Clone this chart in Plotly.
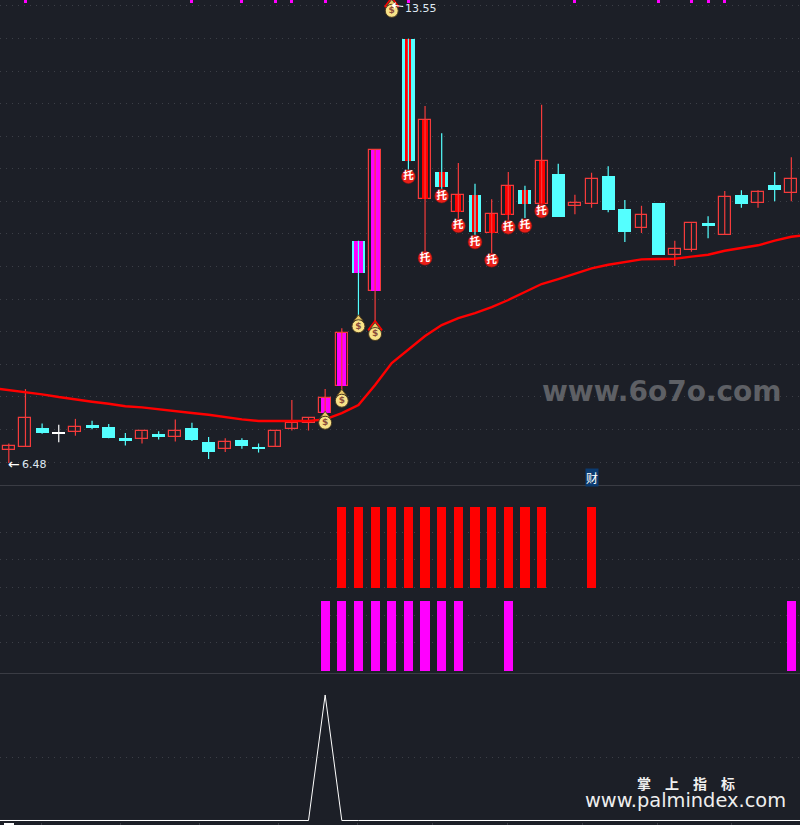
import plotly.graph_objects as go

BG = "#1c1f27"
GRID = "#3c3f47"
SEP = "#3a3c44"
RED_EDGE = "#f53b3b"
CYAN = "#54ffff"
RED = "#ff0000"
MAGENTA = "#ff00ff"

opens = [6.68, 6.73, 7.02, 6.94, 6.96, 7.06, 7.03, 6.86, 6.85, 6.93, 6.88, 7.02, 6.81, 6.70, 6.83, 6.73, 6.73, 7.01, 7.09, 7.25, 7.67, 9.91, 9.13, None,
         13.03, 10.55, 10.97, 10.36, 10.62, 10.03, 10.31, 10.70, 10.48, 10.94, 10.44, 10.47, 10.91, 10.40, 10.10, 10.49, 9.69, 9.77, 10.18, 10.00, 10.62, 10.50, 10.77, 10.64]
highs = [6.78, 7.62, 7.09, 7.07, 7.16, 7.13, 7.08, 6.94, 6.97, 6.97, 7.15, 7.10, 6.88, 6.86, 6.86, 6.78, 6.97, 7.45, 7.18, 7.62, 8.56, 9.91, 11.31, None,
         13.03, 11.99, 11.57, 11.11, 10.79, 10.55, 10.97, 10.76, 12.01, 11.10, 10.62, 10.96, 11.06, 10.54, 10.45, 10.49, 9.91, 10.18, 10.29, 10.68, 10.69, 10.69, 10.97, 11.20]
lows = [6.48, 6.73, 6.93, 6.80, 6.90, 7.00, 6.86, 6.75, 6.78, 6.84, 6.81, 6.82, 6.54, 6.65, 6.70, 6.64, 6.73, 6.98, 6.98, 7.20, 7.58, 8.72, 8.56, None,
        11.00, 9.66, 10.69, 10.23, 10.00, 9.72, 10.23, 10.26, 10.46, 10.28, 10.32, 10.42, 10.35, 9.89, 10.03, 9.69, 9.52, 9.74, 9.95, 10.00, 10.42, 10.42, 10.52, 10.52]
closes = [6.74, 7.17, 6.94, 6.94, 7.03, 7.03, 6.86, 6.82, 6.97, 6.88, 6.97, 6.83, 6.65, 6.81, 6.74, 6.70, 6.97, 7.09, 7.18, 7.49, 8.48, 9.41, 11.31, None,
          11.14, 11.77, 10.74, 10.61, 10.05, 10.32, 10.75, 10.48, 11.14, 10.28, 10.50, 10.87, 10.38, 10.05, 10.30, 9.69, 9.79, 10.18, 10.15, 10.58, 10.48, 10.67, 10.69, 10.87]

ma_x = list(range(-1, 49))
ma_values = [7.636, 7.605, 7.575, 7.539, 7.497, 7.456, 7.425, 7.394, 7.354, 7.338, 7.307, 7.270, 7.250, 7.224, 7.184, 7.153, 7.127, 7.127, 7.127, 7.127,
             7.153, 7.250, 7.374, 7.683, 8.022, 8.238, 8.439, 8.609, 8.717, 8.794, 8.887, 8.995, 9.119, 9.242, 9.319, 9.396, 9.484, 9.540, 9.577, 9.623,
             9.628, 9.633, 9.664, 9.694, 9.756, 9.803, 9.840, 9.911, 9.972, 10.003]

magenta_body_idx = [19, 20, 21, 22]
red_body_idx = [24, 25, 26, 27, 28, 29, 30, 31, 32]

bag_idx = [19, 20, 21, 22, 23]
bag_price = [7.10, 7.44, 8.59, 8.47, 13.46]
bow_idx = [22, 23]
bow_price = [8.58, 13.57]
tuo_idx = [24, 25, 26, 27, 28, 29, 30, 31, 32]
tuo_price = [10.90, 9.64, 10.60, 10.14, 9.89, 9.61, 10.12, 10.14, 10.37]

top_tick_idx = [1, 11, 14, 16, 17, 19, 23, 24, 34, 39, 41, 42, 43]

red_sig_idx = [20, 21, 22, 23, 24, 25, 26, 27, 28, 29, 30, 31, 32, 35]
red_sig_low = 45.4
red_sig_high = 88.3
mag_sig_idx = [19, 20, 21, 22, 23, 24, 25, 26, 27, 30, 47]
mag_sig_low = 1.06
mag_sig_high = 38.3

spike_x = list(range(-1, 49))
spike_values = [0] * 20 + [1] + [0] * 29

top_grid = [6.494, 6.997, 7.500, 8.003, 8.506, 9.009, 9.512, 10.015, 10.518, 11.021, 11.524, 12.027, 12.530, 13.033, 13.536]
mid_grid = [16.3, 30.7, 45.6, 60.4, 74.8]
low_grid = [0.5]
bottom_ticks = [1.95, 6.70, 11.45, 16.20, 20.95, 25.45, 29.96, 34.43, 38.97, 43.43]

X_RANGE = [-0.529, 47.52]
PRICE_RANGE = [6.139, 13.627]


def seg(idx, lo, hi):
    xs, ys = [], []
    for i, a, b in zip(idx, lo, hi):
        xs += [i, i, None]
        ys += [a, b, None]
    return xs, ys


idx_all = [i for i in range(len(opens)) if opens[i] is not None]
up = [i for i in idx_all if closes[i] > opens[i]]
down = [i for i in idx_all if closes[i] < opens[i]]
flat = [i for i in idx_all if closes[i] == opens[i]]

fig = go.Figure()


def wick(idx, color):
    xs, ys = seg(idx, [lows[i] for i in idx], [highs[i] for i in idx])
    fig.add_trace(go.Scatter(x=xs, y=ys, mode="lines", line=dict(color=color, width=1.2), hoverinfo="skip", xaxis="x", yaxis="y"))


wick(up, RED_EDGE)
wick(down, CYAN)
wick(flat, "#ffffff")


def body(idx, fill, edge, width, edge_w):
    tops = [max(opens[i], closes[i]) for i in idx]
    bots = [min(opens[i], closes[i]) for i in idx]
    fig.add_trace(go.Bar(x=idx, y=[t - b for t, b in zip(tops, bots)], base=bots, width=width,
                         marker=dict(color=fill, line=dict(color=edge, width=edge_w)), xaxis="x", yaxis="y"))


body(up, BG, RED_EDGE, 0.72, 1.2)
body(down, CYAN, CYAN, 0.78, 0)
fig.add_trace(go.Bar(x=flat, y=[0.016] * len(flat), base=[opens[i] - 0.008 for i in flat], width=0.78,
                     marker=dict(color="#ffffff", line=dict(width=0)), xaxis="x", yaxis="y"))
body(magenta_body_idx, MAGENTA, MAGENTA, 0.54, 0)
body(red_body_idx, RED, RED, 0.36, 0)

fig.add_trace(go.Bar(x=top_tick_idx, y=[0.05] * len(top_tick_idx), base=[13.577] * len(top_tick_idx), width=0.18,
                     marker=dict(color=MAGENTA, line=dict(width=0)), xaxis="x", yaxis="y"))

fig.add_trace(go.Scatter(x=ma_x, y=ma_values, mode="lines", line=dict(color=RED, width=2.4), hoverinfo="skip", xaxis="x", yaxis="y"))

# money bags: bow + neck + body carrying a dollar sign
fig.add_trace(go.Scatter(x=bow_idx, y=bow_price, mode="markers",
                         marker=dict(symbol="triangle-up-open", size=12, color=RED, line=dict(color=RED, width=1.6)),
                         hoverinfo="skip", xaxis="x", yaxis="y"))
fig.add_trace(go.Scatter(x=bag_idx, y=[p + 0.115 for p in bag_price], mode="markers",
                         marker=dict(symbol="triangle-up", size=8, color="#e8c868", line=dict(color="#5a4520", width=1)),
                         hoverinfo="skip", xaxis="x", yaxis="y"))
fig.add_trace(go.Scatter(x=bag_idx, y=bag_price, mode="markers+text", text=["$"] * len(bag_idx), textposition="middle center",
                         textfont=dict(family="DejaVu Sans", size=9, color="#8a4a3a", weight="bold"),
                         marker=dict(symbol="circle", size=13, color="#f8e288", line=dict(color="#4a3a20", width=1)),
                         hoverinfo="skip", xaxis="x", yaxis="y"))

fig.add_trace(go.Scatter(x=tuo_idx, y=tuo_price, mode="markers+text", text=["托"] * len(tuo_idx), textposition="middle center",
                         textfont=dict(family="Noto Sans CJK SC", size=10.5, color="#ffffff", weight="bold"),
                         marker=dict(symbol="circle", size=14, color="#ea1f18", line=dict(color="#7a1414", width=0.6)),
                         hoverinfo="skip", xaxis="x", yaxis="y"))

fig.add_trace(go.Bar(x=red_sig_idx, y=[red_sig_high - red_sig_low] * len(red_sig_idx), base=[red_sig_low] * len(red_sig_idx), width=0.55,
                     marker=dict(color=RED, line=dict(width=0)), xaxis="x2", yaxis="y2"))
fig.add_trace(go.Bar(x=mag_sig_idx, y=[mag_sig_high - mag_sig_low] * len(mag_sig_idx), base=[mag_sig_low] * len(mag_sig_idx), width=0.55,
                     marker=dict(color=MAGENTA, line=dict(width=0)), xaxis="x2", yaxis="y2"))

fig.add_trace(go.Scatter(x=spike_x, y=spike_values, mode="lines", line=dict(color="#ffffff", width=1), hoverinfo="skip", xaxis="x3", yaxis="y3"))

ax_common = dict(range=X_RANGE, showgrid=False, zeroline=False, showticklabels=False, fixedrange=True)
grid_common = dict(showgrid=True, gridcolor=GRID, griddash="1px,5px", gridwidth=1, zeroline=False, showticklabels=False, ticks="", showline=False, fixedrange=True)

annotations = [
    dict(x=0, y=6.46, xref="x", yref="y", text="←", xanchor="left", yanchor="middle", showarrow=False, xshift=-3,
         font=dict(family="DejaVu Sans", size=14, color="#ffffff")),
    dict(x=0, y=6.46, xref="x", yref="y", text="6.48", xanchor="left", yanchor="middle", showarrow=False, xshift=11,
         font=dict(family="DejaVu Sans", size=11, color="#dfe9f2")),
    dict(x=23, y=13.55, xref="x", yref="y", text="13.55", showarrow=True, ax=29, ay=4, arrowcolor="#ffffff", arrowwidth=1, arrowhead=1, arrowsize=1.2, standoff=0,
         font=dict(family="DejaVu Sans", size=11, color="#dfe9f2")),
    dict(x=35, y=6.25, xref="x", yref="y", text="财", showarrow=False, bgcolor="#0b3b70", borderpad=0,
         font=dict(family="Noto Sans CJK SC", size=12, color="#ffffff")),
    dict(x=662 / 800, y=1 - 392 / 825, xref="paper", yref="paper", text="www.6o7o.com", showarrow=False, xanchor="center", yanchor="middle",
         font=dict(family="DejaVu Sans", size=28, color="#5e6065", weight="bold")),
    dict(x=685.5 / 800, y=1 - 783 / 825, xref="paper", yref="paper", text="掌\u3000上\u3000指\u3000标", showarrow=False, xanchor="center", yanchor="middle",
         font=dict(family="Noto Sans CJK SC", size=14, color="#f0f0f0", weight="bold")),
    dict(x=685 / 800, y=1 - 800 / 825, xref="paper", yref="paper", text="www.palmindex.com", showarrow=False, xanchor="center", yanchor="middle",
         font=dict(family="DejaVu Sans", size=19.4, color="#eeeeee")),
]

fig.update_layout(
    width=800, height=825, margin=dict(l=0, r=0, t=0, b=0),
    paper_bgcolor=BG, plot_bgcolor=BG, showlegend=False, barmode="overlay", bargap=0,
    annotations=annotations,
    shapes=[dict(type="rect", xref="paper", yref="paper", x0=4 / 800, x1=14 / 800, y0=0, y1=2 / 825, fillcolor="#ffffff", line=dict(width=0))],
    xaxis=dict(domain=[0, 1], anchor="y", showline=True, linecolor=SEP, linewidth=1, **ax_common),
    yaxis=dict(domain=[1 - 485 / 825, 1], range=PRICE_RANGE, tickmode="array", tickvals=top_grid, **grid_common),
    xaxis2=dict(domain=[0, 1], anchor="y2", showline=True, linecolor=SEP, linewidth=1, **ax_common),
    yaxis2=dict(domain=[1 - 673 / 825, 1 - 485 / 825], range=[0, 100], tickmode="array", tickvals=mid_grid, **grid_common),
    xaxis3=dict(domain=[0, 1], anchor="y3", showline=False, ticks="outside", ticklen=3, tickwidth=1, tickcolor=SEP,
                tickmode="array", tickvals=bottom_ticks, **ax_common),
    yaxis3=dict(domain=[1 - 822 / 825, 1 - 673 / 825], range=[-0.012, 1.175], tickmode="array", tickvals=low_grid, **grid_common),
)

fig.write_html("out.html", config={"displayModeBar": False},
               post_script="document.body.style.margin='0';document.body.style.background='%s';" % BG)
